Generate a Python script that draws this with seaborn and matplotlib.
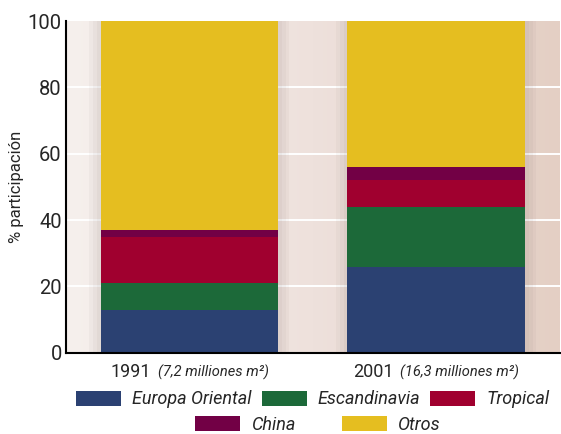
import numpy as np
import pandas as pd
import matplotlib
matplotlib.use("Agg")
import matplotlib.pyplot as plt
from matplotlib.patches import Patch
from matplotlib.colors import LinearSegmentedColormap
from matplotlib.offsetbox import TextArea, HPacker, AnnotationBbox
import seaborn as sns

# -------------------------------
# Data
# -------------------------------
years = ["1991", "2001"]
sizes = ["(7,2 milliones m²)", "(16,3 milliones m²)"]
segments = ["Europa Oriental", "Escandinavia", "Tropical", "China", "Otros"]
europa = [13, 26]
escandinavia = [8, 18]
tropical = [14, 8]
china = [2, 4]
otros = [63, 44]
colors = ["#2B4172", "#1C6939", "#A0002F", "#720045", "#E5BE20"]

# -------------------------------
# Setup
# -------------------------------
sns.set_style("white")
plt.rcParams["font.family"] = ["Roboto", "DejaVu Sans"]

df = pd.DataFrame({"year": years, "Europa Oriental": europa, "Escandinavia": escandinavia,
                   "Tropical": tropical, "China": china, "Otros": otros})
cum = df[segments].cumsum(axis=1)

fig = plt.figure(figsize=(5.61, 4.34), dpi=100)
ax = fig.add_axes([0.1176, 0.187, 0.880, 0.7644])

# background gradient
bg = LinearSegmentedColormap.from_list("bg", ["#F6F0ED", "#EEE1DC", "#E4CFC4"])
ax.imshow(np.linspace(0, 1, 256)[None, :], cmap=bg, aspect="auto",
          extent=[-0.5, 1.5, 0, 100], zorder=0)

for y in [20, 40, 60, 80]:
    ax.axhline(y, color="white", lw=1.4, zorder=1)

# soft shadow around the bars
for k in range(3):
    ax.bar([0, 1], [100, 100], width=0.72 + 0.03 * (k + 1), color="#7A6A66",
           alpha=0.05, linewidth=0, zorder=2)

# stacked bars: draw cumulative totals, tallest first
for seg, col in reversed(list(zip(segments, colors))):
    sns.barplot(x=df["year"], y=cum[seg], color=col, saturation=1, width=0.72,
                edgecolor="none", linewidth=0, ax=ax, zorder=3)

ax.set_xlim(-0.5, 1.5)
ax.set_ylim(0, 100)
ax.set_yticks([0, 20, 40, 60, 80, 100])
ax.tick_params(axis="y", labelsize=14.5, length=0, pad=3)
ax.set_xticks([-0.5, 0.5, 1.5])
ax.set_xticklabels([])
ax.tick_params(axis="x", direction="in", length=6, width=1.2, color="black")
ax.set_xlabel("")
ax.set_ylabel("% participación", fontsize=12, labelpad=3)

for s in ["top", "right"]:
    ax.spines[s].set_visible(False)
for s in ["left", "bottom"]:
    ax.spines[s].set_color("black")
    ax.spines[s].set_linewidth(1.5)
    ax.spines[s].set_zorder(5)

# category labels: year + italic size
for i, (yr, sz) in enumerate(zip(years, sizes)):
    box = HPacker(children=[TextArea(yr, textprops=dict(fontsize=13)),
                            TextArea(sz, textprops=dict(fontsize=10.5, style="italic"))],
                  align="baseline", pad=0, sep=5)
    ab = AnnotationBbox(box, (i, 0), xycoords=("data", "axes fraction"),
                        xybox=(0, -7), boxcoords="offset points",
                        box_alignment=(0.5, 1), frameon=False)
    ax.add_artist(ab)

# legend in two rows
handles = [Patch(facecolor=c, edgecolor="none") for c in colors]
leg_kw = dict(frameon=False, prop=dict(size=13, style="italic"), handlelength=2.5,
              handleheight=0.9, handletextpad=0.6, columnspacing=0.55, loc="center",
              borderaxespad=0, borderpad=0)
leg1 = ax.legend(handles[:3], segments[:3], ncol=3, bbox_to_anchor=(0.5, -0.14), **leg_kw)
ax.add_artist(leg1)
ax.legend(handles[3:], segments[3:], ncol=2, bbox_to_anchor=(0.51, -0.218),
          **dict(leg_kw, columnspacing=2.6))

fig.savefig("out.png", dpi=100)
